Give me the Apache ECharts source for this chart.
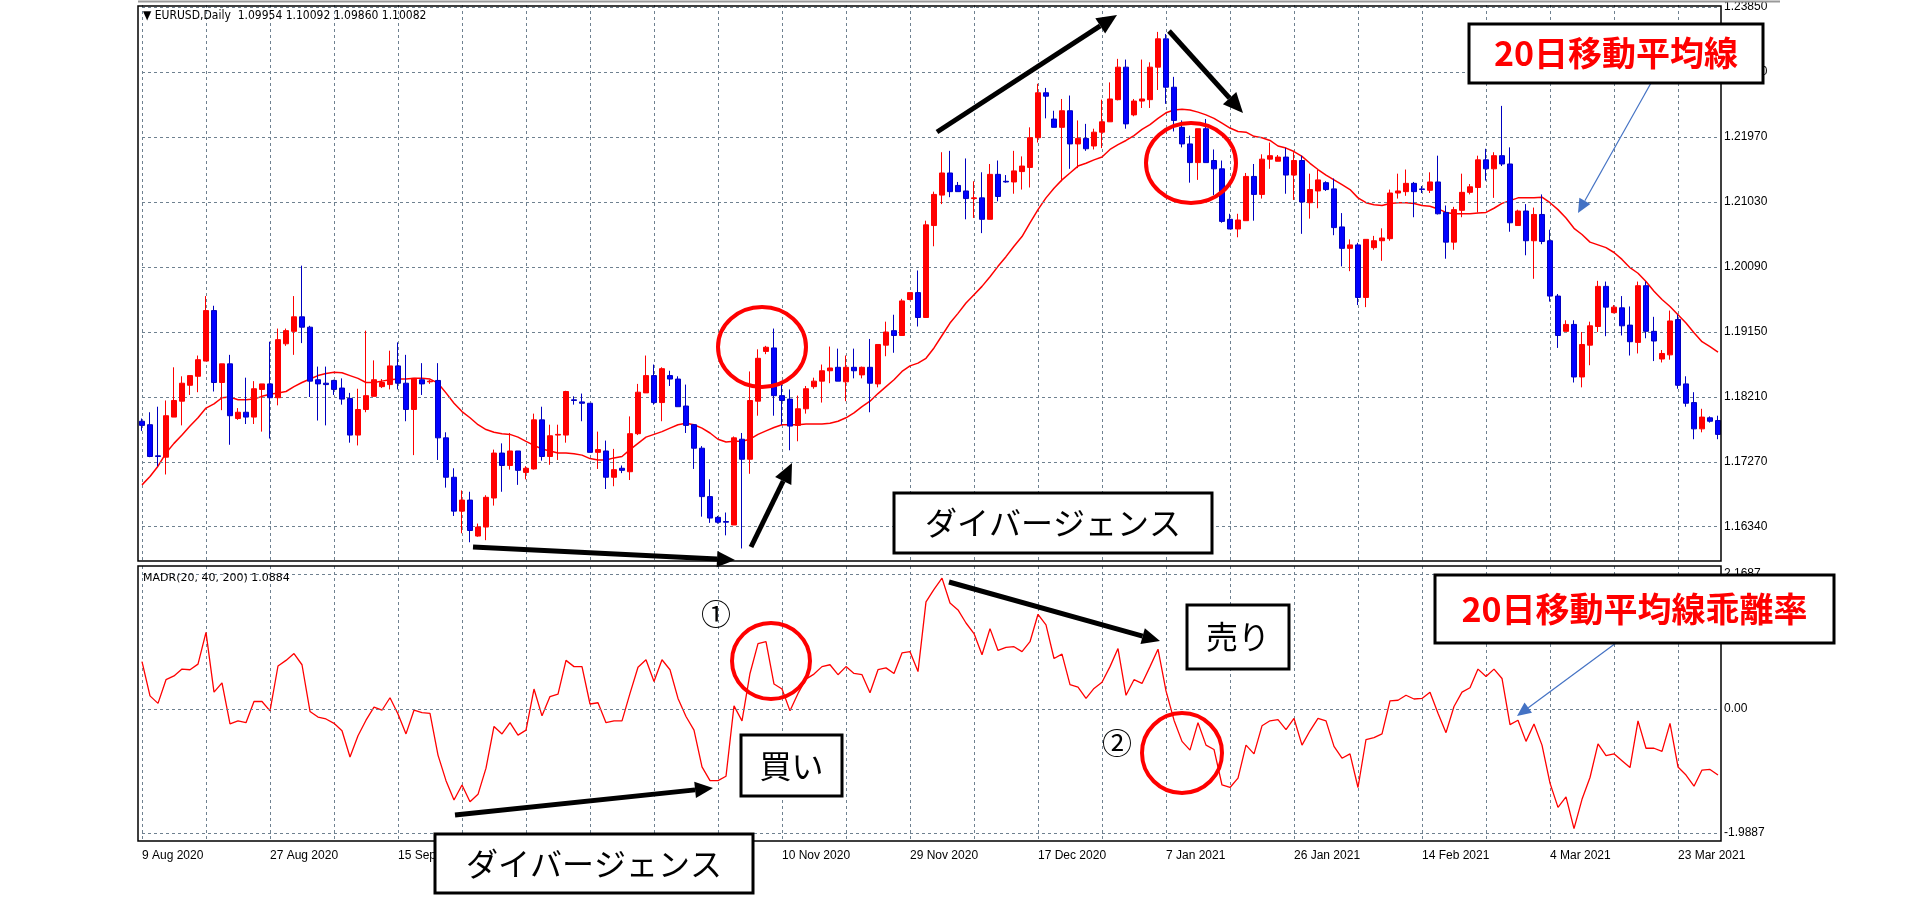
<!DOCTYPE html>
<html><head><meta charset="utf-8">
<script src="https://cdn.jsdelivr.net/npm/echarts@6/dist/echarts.min.js"></script>
<style>html,body{margin:0;padding:0;background:#fff}#c{width:1920px;height:901px}</style>
</head><body><div id="c"></div>
<script>
const tickDates = ["9 Aug 2020","27 Aug 2020","15 Sep 2020","4 Oct 2020","22 Oct 2020","10 Nov 2020","29 Nov 2020","17 Dec 2020","7 Jan 2021","26 Jan 2021","14 Feb 2021","4 Mar 2021","23 Mar 2021"];
const priceTicks = [1.16340,1.17270,1.18210,1.19150,1.20090,1.21030,1.21970,1.22910,1.23850];
const madrTicks = [2.1687,0,-1.9887];
const opens = [1.1786,1.1781,1.1736,1.1734,1.1792,1.1815,1.1838,1.1851,1.1873,1.1946,1.1842,1.1869,1.1790,1.1799,1.1792,1.1832,1.1840,1.1820,1.1898,1.1916,1.1937,1.1922,1.1846,1.1841,1.1845,1.1834,1.1819,1.1766,1.1803,1.1822,1.1836,1.1839,1.1866,1.1841,1.1803,1.1846,1.1843,1.1845,1.1762,1.1705,1.1656,1.1672,1.1620,1.1633,1.1675,1.1740,1.1722,1.1743,1.1712,1.1717,1.1788,1.1735,1.1766,1.1766,1.1817,1.1814,1.1812,1.1741,1.1743,1.1705,1.1718,1.1713,1.1768,1.1827,1.1852,1.1813,1.1852,1.1847,1.1808,1.1781,1.1747,1.1677,1.1647,1.1641,1.1636,1.1760,1.1731,1.1815,1.1887,1.1892,1.1823,1.1818,1.1780,1.1804,1.1836,1.1844,1.1859,1.1864,1.1843,1.1864,1.1853,1.1864,1.1840,1.1896,1.1917,1.1910,1.1962,1.1972,1.1936,1.2069,1.2113,1.2145,1.2127,1.2119,1.2108,1.2109,1.2078,1.2143,1.2133,1.2132,1.2147,1.2153,1.2196,1.2261,1.2223,1.2211,1.2235,1.2187,1.2195,1.2184,1.2204,1.2219,1.2251,1.2298,1.2229,1.2249,1.2251,1.2298,1.2339,1.2269,1.2211,1.2187,1.2160,1.2209,1.2163,1.2151,1.2078,1.2064,1.2076,1.2140,1.2114,1.2165,1.2162,1.2168,1.2142,1.2163,1.2102,1.2119,1.2131,1.2122,1.2067,1.2036,1.2041,1.1965,1.2037,1.2047,1.2050,1.2116,1.2118,1.2130,1.2122,1.2120,1.2132,1.2088,1.2045,1.2091,1.2117,1.2124,1.2164,1.2151,1.2170,1.2158,1.2069,1.2090,1.2047,1.2085,1.2047,1.1967,1.1916,1.1926,1.1850,1.1896,1.1923,1.1981,1.1943,1.1950,1.1925,1.1900,1.1982,1.1916,1.1876,1.1882,1.1933,1.1840,1.1813,1.1775,1.1791,1.1787];
const closes = [1.1780,1.1735,1.1735,1.1794,1.1816,1.1841,1.1852,1.1875,1.1946,1.1842,1.1869,1.1794,1.1799,1.1792,1.1833,1.1840,1.1820,1.1904,1.1917,1.1937,1.1922,1.1844,1.1840,1.1839,1.1832,1.1818,1.1766,1.1803,1.1823,1.1846,1.1842,1.1866,1.1841,1.1803,1.1848,1.1840,1.1844,1.1762,1.1705,1.1656,1.1672,1.1628,1.1633,1.1676,1.1740,1.1722,1.1743,1.1715,1.1718,1.1788,1.1735,1.1765,1.1767,1.1829,1.1816,1.1812,1.1741,1.1745,1.1705,1.1716,1.1715,1.1768,1.1828,1.1852,1.1813,1.1862,1.1847,1.1807,1.1780,1.1747,1.1677,1.1646,1.1640,1.1640,1.1762,1.1731,1.1816,1.1877,1.1893,1.1823,1.1816,1.1779,1.1804,1.1833,1.1844,1.1859,1.1863,1.1844,1.1864,1.1859,1.1864,1.1841,1.1897,1.1915,1.1910,1.1960,1.1972,1.1936,1.2070,1.2114,1.2145,1.2118,1.2118,1.2108,1.2109,1.2078,1.2143,1.2111,1.2132,1.2148,1.2155,1.2196,1.2261,1.2256,1.2211,1.2235,1.2187,1.2195,1.2180,1.2204,1.2219,1.2252,1.2298,1.2216,1.2249,1.2252,1.2298,1.2339,1.2269,1.2221,1.2187,1.2160,1.2209,1.2160,1.2151,1.2075,1.2064,1.2077,1.2140,1.2114,1.2165,1.2170,1.2168,1.2142,1.2163,1.2103,1.2121,1.2135,1.2121,1.2066,1.2036,1.2041,1.1965,1.2049,1.2047,1.2051,1.2116,1.2119,1.2130,1.2118,1.2121,1.2132,1.2086,1.2045,1.2092,1.2117,1.2125,1.2164,1.2151,1.2170,1.2158,1.2073,1.2090,1.2047,1.2085,1.2046,1.1967,1.1910,1.1926,1.1850,1.1897,1.1924,1.1981,1.1951,1.1951,1.1924,1.1901,1.1982,1.1916,1.1902,1.1884,1.1931,1.1838,1.1812,1.1775,1.1792,1.1786,1.1767];
const highs = [1.1790,1.1799,1.1807,1.1816,1.1864,1.1851,1.1852,1.1881,1.1967,1.1953,1.1869,1.1882,1.1805,1.1849,1.1844,1.1840,1.1901,1.1920,1.1920,1.1967,1.2011,1.1924,1.1865,1.1865,1.1846,1.1848,1.1827,1.1833,1.1917,1.1874,1.1847,1.1888,1.1900,1.1882,1.1848,1.1870,1.1846,1.1870,1.1770,1.1718,1.1686,1.1684,1.1638,1.1679,1.1745,1.1754,1.1769,1.1743,1.1721,1.1797,1.1807,1.1781,1.1781,1.1830,1.1822,1.1826,1.1812,1.1771,1.1758,1.1746,1.1722,1.1793,1.1840,1.1881,1.1868,1.1864,1.1859,1.1851,1.1839,1.1782,1.1750,1.1702,1.1649,1.1654,1.1764,1.1769,1.1858,1.1890,1.1895,1.1920,1.1839,1.1832,1.1823,1.1837,1.1849,1.1868,1.1894,1.1891,1.1881,1.1891,1.1865,1.1905,1.1897,1.1930,1.1940,1.1963,1.1972,1.2004,1.2076,1.2118,1.2175,1.2177,1.2132,1.2166,1.2133,1.2146,1.2158,1.2163,1.2142,1.2177,1.2169,1.2211,1.2274,1.2268,1.2235,1.2252,1.2257,1.2221,1.2216,1.2209,1.2251,1.2276,1.2310,1.2309,1.2252,1.2309,1.2305,1.2349,1.2346,1.2284,1.2221,1.2199,1.2209,1.2223,1.2179,1.2163,1.2086,1.2086,1.2145,1.2158,1.2172,1.2189,1.2171,1.2181,1.2175,1.2170,1.2144,1.2150,1.2133,1.2137,1.2087,1.2049,1.2044,1.2049,1.2054,1.2065,1.2121,1.2144,1.2150,1.2132,1.2126,1.2146,1.2170,1.2098,1.2096,1.2144,1.2129,1.2170,1.2180,1.2175,1.2242,1.2182,1.2092,1.2100,1.2095,1.2114,1.2063,1.1970,1.1932,1.1932,1.1915,1.1930,1.1989,1.1988,1.1954,1.1967,1.1952,1.1988,1.1988,1.1937,1.1889,1.1946,1.1940,1.1851,1.1828,1.1804,1.1793,1.1794];
const lows = [1.1772,1.1734,1.1721,1.1709,1.1792,1.1780,1.1824,1.1828,1.1873,1.1829,1.1802,1.1752,1.1788,1.1782,1.1782,1.1771,1.1761,1.1809,1.1895,1.1882,1.1899,1.1821,1.1787,1.1780,1.1824,1.1810,1.1755,1.1751,1.1799,1.1822,1.1834,1.1832,1.1832,1.1786,1.1737,1.1824,1.1840,1.1730,1.1690,1.1649,1.1624,1.1611,1.1619,1.1614,1.1664,1.1684,1.1716,1.1694,1.1702,1.1716,1.1729,1.1723,1.1730,1.1755,1.1810,1.1786,1.1741,1.1717,1.1688,1.1692,1.1711,1.1701,1.1766,1.1827,1.1810,1.1786,1.1837,1.1807,1.1769,1.1717,1.1648,1.1639,1.1638,1.1621,1.1636,1.1602,1.1710,1.1794,1.1883,1.1794,1.1781,1.1744,1.1757,1.1797,1.1833,1.1813,1.1841,1.1844,1.1815,1.1848,1.1848,1.1799,1.1835,1.1880,1.1885,1.1910,1.1961,1.1923,1.1936,1.2039,1.2100,1.2110,1.2118,1.2078,1.2080,1.2058,1.2078,1.2104,1.2131,1.2115,1.2121,1.2124,1.2189,1.2224,1.2211,1.2133,1.2151,1.2152,1.2177,1.2179,1.2181,1.2219,1.2250,1.2209,1.2227,1.2239,1.2239,1.2265,1.2245,1.2205,1.2182,1.2131,1.2135,1.2160,1.2113,1.2073,1.2064,1.2052,1.2076,1.2076,1.2108,1.2151,1.2162,1.2115,1.2106,1.2057,1.2079,1.2094,1.2119,1.2055,1.2010,1.2003,1.1954,1.1951,1.2034,1.2018,1.2047,1.2108,1.2112,1.2081,1.2116,1.2116,1.2085,1.2021,1.2034,1.2081,1.2114,1.2088,1.2134,1.2109,1.2155,1.2060,1.2069,1.2026,1.1992,1.2042,1.1959,1.1892,1.1916,1.1842,1.1835,1.1867,1.1915,1.1909,1.1942,1.1910,1.1881,1.1884,1.1906,1.1873,1.1871,1.1875,1.1833,1.1807,1.1760,1.1770,1.1784,1.1760];
const ma20 = [1.1694,1.1706,1.1721,1.1740,1.1754,1.1766,1.1779,1.1791,1.1805,1.1811,1.1820,1.1821,1.1817,1.1817,1.1818,1.1822,1.1825,1.1827,1.1829,1.1836,1.1842,1.1847,1.1852,1.1855,1.1857,1.1856,1.1852,1.1848,1.1842,1.1842,1.1844,1.1846,1.1847,1.1847,1.1848,1.1848,1.1847,1.1841,1.1827,1.1812,1.1800,1.1791,1.1781,1.1774,1.1770,1.1768,1.1767,1.1763,1.1757,1.1751,1.1746,1.1743,1.1740,1.1740,1.1739,1.1737,1.1732,1.1730,1.1730,1.1733,1.1735,1.1745,1.1754,1.1763,1.1767,1.1771,1.1776,1.1781,1.1783,1.1781,1.1776,1.1769,1.1760,1.1756,1.1757,1.1757,1.1760,1.1767,1.1772,1.1777,1.1781,1.1781,1.1781,1.1782,1.1782,1.1782,1.1783,1.1786,1.1791,1.1798,1.1807,1.1815,1.1826,1.1836,1.1846,1.1858,1.1866,1.1870,1.1877,1.1892,1.1910,1.1928,1.1942,1.1957,1.1969,1.1981,1.1995,1.2010,1.2024,1.2039,1.2053,1.2073,1.2092,1.2109,1.2123,1.2135,1.2145,1.2155,1.2159,1.2164,1.2168,1.2179,1.2186,1.2192,1.2199,1.2208,1.2215,1.2224,1.2232,1.2236,1.2237,1.2236,1.2233,1.2229,1.2224,1.2217,1.2210,1.2205,1.2204,1.2198,1.2196,1.2192,1.2184,1.2181,1.2176,1.2169,1.2159,1.2150,1.2142,1.2135,1.2128,1.2121,1.2109,1.2102,1.2099,1.2098,1.2101,1.2102,1.2102,1.2101,1.2098,1.2097,1.2093,1.2088,1.2086,1.2086,1.2086,1.2087,1.2088,1.2094,1.2101,1.2105,1.2109,1.2109,1.2109,1.2110,1.2102,1.2092,1.2080,1.2065,1.2056,1.2045,1.2041,1.2037,1.2030,1.2020,1.2008,1.2000,1.1988,1.1974,1.1962,1.1952,1.1940,1.1928,1.1914,1.1901,1.1894,1.1886];
const madr = [0.76,0.21,0.09,0.47,0.53,0.64,0.63,0.72,1.23,0.27,0.42,-0.24,-0.19,-0.22,0.12,0.12,-0.03,0.69,0.78,0.89,0.71,-0.04,-0.13,-0.16,-0.23,-0.35,-0.77,-0.43,-0.18,0.03,-0.02,0.18,-0.08,-0.40,-0.02,-0.06,-0.07,-0.74,-1.15,-1.46,-1.22,-1.49,-1.37,-0.95,-0.28,-0.40,-0.22,-0.42,-0.34,0.32,-0.11,0.20,0.24,0.78,0.68,0.68,0.08,0.10,-0.22,-0.19,-0.19,0.25,0.67,0.79,0.44,0.79,0.63,0.17,-0.12,-0.34,-0.93,-1.15,-1.15,-1.08,0.05,-0.19,0.57,1.05,1.08,0.40,0.32,-0.03,0.25,0.48,0.56,0.68,0.71,0.55,0.68,0.57,0.55,0.26,0.63,0.66,0.57,0.90,0.92,0.60,1.72,1.92,2.10,1.70,1.59,1.38,1.21,0.87,1.29,0.94,0.99,1.00,0.92,1.08,1.52,1.35,0.81,0.88,0.39,0.35,0.17,0.33,0.43,0.68,0.97,0.22,0.47,0.41,0.68,0.96,0.29,-0.18,-0.52,-0.66,-0.22,-0.58,-0.65,-1.22,-1.26,-1.11,-0.58,-0.72,-0.27,-0.19,-0.17,-0.33,-0.15,-0.58,-0.35,-0.15,-0.19,-0.60,-0.79,-0.72,-1.26,-0.49,-0.46,-0.40,0.13,0.14,0.22,0.16,0.17,0.27,-0.07,-0.38,0.04,0.27,0.34,0.64,0.52,0.64,0.49,-0.25,-0.18,-0.52,-0.24,-0.58,-1.19,-1.58,-1.41,-1.92,-1.45,-1.10,-0.56,-0.75,-0.72,-0.83,-0.94,-0.19,-0.63,-0.63,-0.68,-0.23,-0.93,-1.06,-1.24,-0.98,-0.97,-1.06];

const cats = opens.map((_, i) => String(i));
const ohlc = opens.map((o, i) => [o, closes[i], lows[i], highs[i]]);
const FONT = 'Liberation Sans';
const gridLineStyle = {color: '#6f8190', type: [3, 3], width: 1};

function arrow(x1, y1, x2, y2, w, color, head) {
  const a = Math.atan2(y2 - y1, x2 - x1);
  const bx = x2 - head * Math.cos(a), by = y2 - head * Math.sin(a);
  const hw = head * 0.45;
  return [
    {type: 'line', shape: {x1, y1, x2: bx, y2: by}, style: {stroke: color, lineWidth: w}, z: 100},
    {type: 'polygon', shape: {points: [[x2, y2], [bx + hw * Math.sin(a), by - hw * Math.cos(a)], [bx - hw * Math.sin(a), by + hw * Math.cos(a)]]}, style: {fill: color}, z: 100}
  ];
}
function ring(cx, cy, rx, ry) {
  return {type: 'ellipse', shape: {cx, cy, rx, ry}, style: {fill: 'none', stroke: '#ff0000', lineWidth: 4}, z: 100};
}
function box(x, y, w, h, text, color, size, weight) {
  return [
    {type: 'rect', shape: {x, y, width: w, height: h}, style: {fill: '#fff', stroke: '#000', lineWidth: 3}, z: 110},
    {type: 'text', x: x + w / 2, y: y + h / 2, style: {text, fill: color, font: weight + ' ' + size + 'px "Noto Sans CJK JP"', textAlign: 'center', textVerticalAlign: 'middle'}, z: 111}
  ];
}

const graphics = [
  {type: 'rect', shape: {x: 138, y: 6, width: 1583, height: 555}, style: {fill: 'none', stroke: '#000', lineWidth: 1.5}, z: 50},
  {type: 'rect', shape: {x: 138, y: 566, width: 1583, height: 275}, style: {fill: 'none', stroke: '#000', lineWidth: 1.5}, z: 50},
  {type: 'line', shape: {x1: 138, y1: 1.5, x2: 1780, y2: 1.5}, style: {stroke: '#999', lineWidth: 2}, z: 50},
  {type: 'text', x: 143, y: 16, style: {text: '▼ EURUSD,Daily  1.09954 1.10092 1.09860 1.10082', fill: '#000', font: '12px "DejaVu Sans Condensed"', textVerticalAlign: 'middle'}, z: 60},
  {type: 'text', x: 143, y: 578, style: {text: 'MADR(20, 40, 200) 1.0884', fill: '#000', font: '11px "DejaVu Sans"', textVerticalAlign: 'middle'}, z: 60},
  ...arrow(937, 132, 1117, 15, 5, '#000', 20),
  ...arrow(1169, 31, 1243, 113, 5, '#000', 20),
  ...arrow(473, 547, 735, 560, 5, '#000', 18),
  ...arrow(751, 547, 792, 463, 5, '#000', 20),
  ...arrow(949, 582, 1160, 641, 5, '#000', 18),
  ...arrow(455, 815, 713, 788, 5, '#000', 18),
  ...arrow(1651, 83, 1578, 213, 1.2, '#4472c4', 14),
  ...arrow(1616, 643, 1517, 716, 1.2, '#4472c4', 14),
  ring(762, 347, 44, 40), ring(1191, 163, 45, 40), ring(771, 661, 39, 38), ring(1182, 753, 40, 40),
  {type: 'text', x: 716, y: 614, style: {text: '①', fill: '#000', font: '30px "Noto Sans CJK JP"', textAlign: 'center', textVerticalAlign: 'middle'}, z: 100},
  {type: 'text', x: 1117, y: 743, style: {text: '②', fill: '#000', font: '30px "Noto Sans CJK JP"', textAlign: 'center', textVerticalAlign: 'middle'}, z: 100},
  ...box(1469, 24, 294, 59, '20日移動平均線', '#ff0000', 34, 'bold'),
  ...box(1435, 575, 399, 68, '20日移動平均線乖離率', '#ff0000', 34, 'bold'),
  ...box(894, 493, 318, 60, 'ダイバージェンス', '#000', 32, 'normal'),
  ...box(435, 834, 318, 59, 'ダイバージェンス', '#000', 32, 'normal'),
  ...box(1187, 605, 102, 64, '売り', '#000', 32, 'normal'),
  ...box(741, 735, 101, 61, '買い', '#000', 32, 'normal')
];

const chart = echarts.init(document.getElementById('c'));
chart.setOption({
  animation: false,
  backgroundColor: '#fff',
  grid: [
    {left: 142, right: 202, top: 5, bottom: 340},
    {left: 142, right: 202, top: 566, bottom: 60}
  ],
  xAxis: [
    {type: 'category', gridIndex: 0, data: cats, boundaryGap: false,
     axisLine: {show: false}, axisTick: {show: false}, axisLabel: {show: false},
     splitLine: {show: true, interval: (i) => i % 8 === 0, lineStyle: gridLineStyle}},
    {type: 'category', gridIndex: 1, data: cats, boundaryGap: false,
     axisLine: {show: false}, axisTick: {show: false},
     axisLabel: {show: true, interval: (i) => i % 16 === 0, formatter: (v) => tickDates[Number(v) / 16] || '',
       align: 'left', margin: 9, color: '#000', fontSize: 12, fontFamily: FONT},
     splitLine: {show: true, interval: (i) => i % 8 === 0, lineStyle: gridLineStyle}}
  ],
  yAxis: [
    {type: 'value', gridIndex: 0, min: 1.15839, max: 1.23879,
     axisLine: {show: false}, axisTick: {show: false}, axisLabel: {show: false}, splitLine: {show: false}},
    {type: 'value', gridIndex: 1, min: -2.119, max: 2.295,
     axisLine: {show: false}, axisTick: {show: false}, axisLabel: {show: false}, splitLine: {show: false}}
  ],
  series: [
    {type: 'candlestick', xAxisIndex: 0, yAxisIndex: 0, data: ohlc, barWidth: 6, z: 5,
     itemStyle: {color: '#ff0000', color0: '#0000ff', borderColor: '#ff0000', borderColor0: '#0000c0', borderWidth: 1}},
    {type: 'line', xAxisIndex: 0, yAxisIndex: 0, data: ma20, symbol: 'none', z: 4,
     lineStyle: {color: '#ff0000', width: 1.5}, silent: true,
     markLine: {silent: true, symbol: 'none', animation: false, precision: 5,
       lineStyle: gridLineStyle,
       label: {show: true, position: 'end', formatter: '{b}', color: '#000', fontSize: 12, fontFamily: FONT, distance: 6},
       data: priceTicks.map(v => ({yAxis: v, name: v.toFixed(5)}))}},
    {type: 'line', xAxisIndex: 1, yAxisIndex: 1, data: madr, symbol: 'none',
     lineStyle: {color: '#ff0000', width: 1.3}, silent: true,
     markLine: {silent: true, symbol: 'none', animation: false,
       lineStyle: gridLineStyle,
       label: {position: 'end', formatter: '{b}', color: '#000', fontSize: 12, fontFamily: FONT, distance: 6},
       data: madrTicks.map(v => ({yAxis: v, name: v === 0 ? '0.00' : v.toFixed(4)}))}}
  ],
  graphic: graphics
});
</script>
</body></html>
